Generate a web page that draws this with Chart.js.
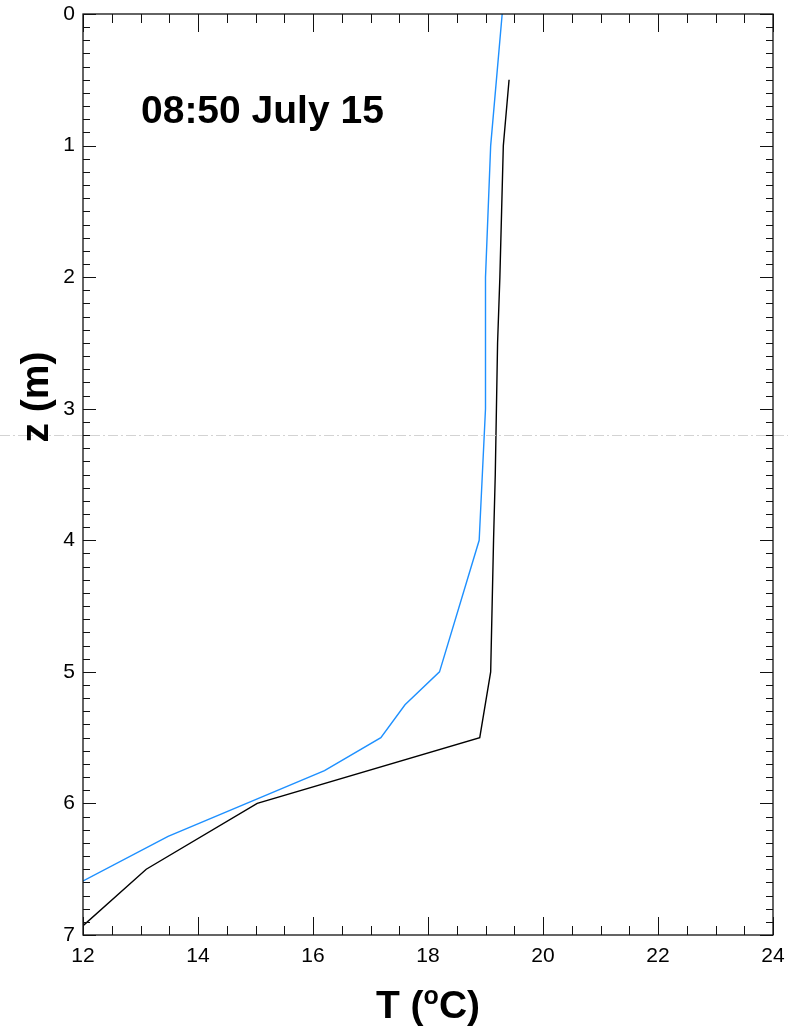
<!DOCTYPE html>
<html>
<head>
<meta charset="utf-8">
<script src="https://cdn.jsdelivr.net/npm/chart.js@4.4.1/dist/chart.umd.min.js"></script>
<style>
  html, body { margin: 0; padding: 0; background: #fff; }
  #wrap { width: 788px; height: 1029px; }
</style>
</head>
<body>
<div id="wrap"><canvas id="profile" width="788" height="1029"></canvas></div>
<script>
// temperature profiles, depth z (m) vs T (degC)
const blueZ = [0, 1, 2, 3, 4, 5, 5.25, 5.5, 5.75, 6.25, 6.75];
const blueT = [19.29, 19.09, 19.0, 19.0, 18.89, 18.2, 17.6, 17.18, 16.2, 13.48, 11.3];

const blackZ = [0.5, 1, 1.5, 2, 2.5, 3, 3.5, 4, 5, 5.5, 6, 6.5, 7];
const blackT = [19.41, 19.31, 19.28, 19.25, 19.21, 19.19, 19.17, 19.14, 19.09, 18.9, 15.03, 13.1, 11.82];

const xTicks = [12, 14, 16, 18, 20, 22, 24];
const zTicks = [0, 1, 2, 3, 4, 5, 6, 7];
const label = '08:50 July 15';

const toPts = (ts, zs) => ts.map((t, i) => ({ x: t, y: zs[i] }));

// frame, inward ticks on all four sides, titles
const decor = {
  id: 'decor',
  afterDraw(chart) {
    const { ctx, chartArea: a, scales: { x, y } } = chart;
    ctx.save();

    // faint dashed line across the page
    const yl = Math.round(y.getPixelForValue(3.2)) + 0.5;
    ctx.strokeStyle = 'rgba(200,200,200,0.8)';
    ctx.lineWidth = 1;
    ctx.setLineDash([10, 3, 2, 3]);
    ctx.beginPath();
    ctx.moveTo(0, yl); ctx.lineTo(chart.width, yl);
    ctx.stroke();
    ctx.setLineDash([]);

    ctx.strokeStyle = '#111';
    ctx.lineWidth = 1.3;
    ctx.strokeRect(a.left, a.top, a.right - a.left, a.bottom - a.top);

    ctx.lineWidth = 1;
    ctx.beginPath();
    for (let v = 12; v <= 24.001; v += 0.5) {
      const px = Math.round(x.getPixelForValue(v)) + 0.5;
      const major = Math.abs(v / 2 - Math.round(v / 2)) < 1e-6;
      const len = major ? 18 : 9;
      ctx.moveTo(px, a.bottom); ctx.lineTo(px, a.bottom - len);
      ctx.moveTo(px, a.top); ctx.lineTo(px, a.top + len);
    }
    for (let i = 0; i <= 70; i++) {
      const v = i / 10;
      const py = Math.round(y.getPixelForValue(v)) + 0.5;
      const len = i % 10 === 0 ? 13 : 7;
      ctx.moveTo(a.left, py); ctx.lineTo(a.left + len, py);
      ctx.moveTo(a.right, py); ctx.lineTo(a.right - len, py);
    }
    ctx.stroke();

    ctx.fillStyle = '#000';
    ctx.font = 'bold 39px "Liberation Sans", Arial, sans-serif';
    ctx.textBaseline = 'alphabetic';
    ctx.textAlign = 'left';
    ctx.fillText(label, a.left + 58, 123);

    // x title with superscript o
    const big = 'bold 39px "Liberation Sans", Arial, sans-serif';
    const small = 'bold 25px "Liberation Sans", Arial, sans-serif';
    const parts = [['T (', big, 0], ['o', small, -14], ['C)', big, 0]];
    let w = 0;
    parts.forEach(p => { ctx.font = p[1]; w += ctx.measureText(p[0]).width; });
    let cx = (a.left + a.right) / 2 - w / 2;
    parts.forEach(p => {
      ctx.font = p[1];
      ctx.fillText(p[0], cx, 1018 + p[2]);
      cx += ctx.measureText(p[0]).width;
    });

    // y title
    ctx.save();
    ctx.translate(48, 397);
    ctx.rotate(-Math.PI / 2);
    ctx.font = big;
    ctx.textAlign = 'center';
    ctx.fillText('z (m)', 0, 0);
    ctx.restore();

    ctx.restore();
  }
};

new Chart(document.getElementById('profile'), {
  type: 'scatter',
  data: {
    datasets: [
      {
        data: toPts(blueT, blueZ),
        showLine: true,
        borderColor: 'rgb(30,144,255)',
        borderWidth: 1.4,
        pointRadius: 0,
        tension: 0
      },
      {
        data: toPts(blackT, blackZ),
        showLine: true,
        borderColor: '#000',
        borderWidth: 1.4,
        pointRadius: 0,
        tension: 0
      }
    ]
  },
  options: {
    responsive: false,
    animation: false,
    layout: { padding: { left: 0, right: 15, top: 14, bottom: 0 } },
    plugins: { legend: { display: false }, tooltip: { enabled: false } },
    scales: {
      x: {
        type: 'linear',
        min: 12, max: 24,
        afterBuildTicks: s => { s.ticks = xTicks.map(v => ({ value: v })); },
        afterFit: s => { s.height = 94; s.paddingLeft = 0; s.paddingRight = 0; },
        grid: { display: false, drawTicks: false },
        border: { display: false },
        ticks: {
          padding: 9,
          color: '#000',
          font: { family: '"Liberation Sans", Arial, sans-serif', size: 21 },
          maxRotation: 0
        }
      },
      y: {
        type: 'linear',
        reverse: true,
        min: 0, max: 7,
        afterBuildTicks: s => { s.ticks = zTicks.map(v => ({ value: v })); },
        afterFit: s => { s.width = 83; s.paddingTop = 0; s.paddingBottom = 0; },
        grid: { display: false, drawTicks: false },
        border: { display: false },
        ticks: {
          padding: 8,
          color: '#000',
          font: { family: '"Liberation Sans", Arial, sans-serif', size: 21 }
        }
      }
    }
  },
  plugins: [decor]
});
</script>
</body>
</html>
